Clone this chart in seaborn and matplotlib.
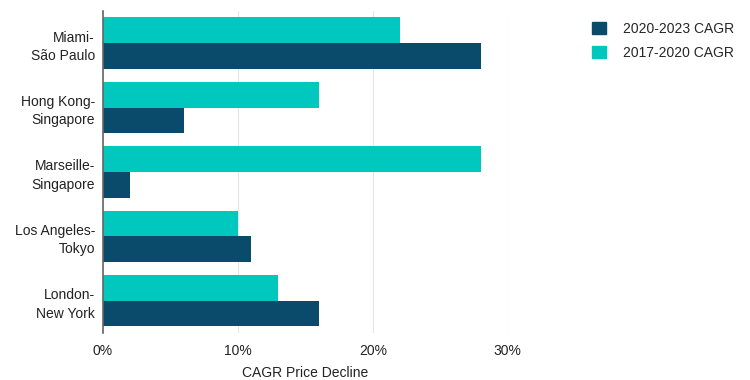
import matplotlib
matplotlib.use("Agg")
import matplotlib.pyplot as plt
from matplotlib.patches import Patch
from matplotlib.ticker import PercentFormatter
import seaborn as sns
import pandas as pd

routes = ["Miami-\nSão Paulo", "Hong Kong-\nSingapore", "Marseille-\nSingapore",
          "Los Angeles-\nTokyo", "London-\nNew York"]
cagr_2017_2020 = [22, 16, 28, 10, 13]
cagr_2020_2023 = [28, 6, 2, 11, 16]
series = ["2017-2020 CAGR", "2020-2023 CAGR"]
colors = {"2017-2020 CAGR": "#00c8be", "2020-2023 CAGR": "#0a4a6b"}

df = pd.DataFrame({
    "route": routes * 2,
    "value": cagr_2017_2020 + cagr_2020_2023,
    "series": [series[0]] * len(routes) + [series[1]] * len(routes),
})

sns.set_style("white")
plt.rcParams["font.family"] = ["Liberation Sans", "DejaVu Sans"]
plt.rcParams["font.size"] = 10

fig = plt.figure(figsize=(7.5, 3.8), dpi=100)
ax = fig.add_axes([0.137, 0.124, 0.540, 0.847])

sns.barplot(data=df, y="route", x="value", hue="series", hue_order=series,
            order=routes, palette=colors, orient="h", width=0.8,
            saturation=1, linewidth=0, ax=ax, legend=False)

ax.set_xlim(0, 30)
ax.set_ylim(4.5, -0.5)
ax.set_xticks([0, 10, 20, 30])
ax.xaxis.set_major_formatter(PercentFormatter(decimals=0))
ax.grid(axis="x", color="#e6e6e6", linewidth=0.8)
ax.set_axisbelow(True)
for s in ["top", "right", "bottom"]:
    ax.spines[s].set_visible(False)
ax.spines["left"].set_color("#666666")
ax.spines["left"].set_linewidth(1.2)
ax.tick_params(axis="x", length=0, pad=8, labelsize=10, colors="#222222")
ax.tick_params(axis="y", length=0, pad=5.5, labelsize=10, colors="#222222")
for lbl in ax.get_yticklabels():
    lbl.set_linespacing(1.4)
ax.set_ylabel("")
ax.set_xlabel("CAGR Price Decline", fontsize=10, color="#222222", labelpad=6)

handles = [Patch(color=colors[series[1]], label=series[1]),
           Patch(color=colors[series[0]], label=series[0])]
fig.legend(handles=handles, loc="upper left", bbox_to_anchor=(0.773, 0.975),
           frameon=False, handlelength=1.0, handleheight=1.0,
           handletextpad=1.2, labelspacing=0.7, fontsize=10)

fig.savefig("out.png", dpi=100)
